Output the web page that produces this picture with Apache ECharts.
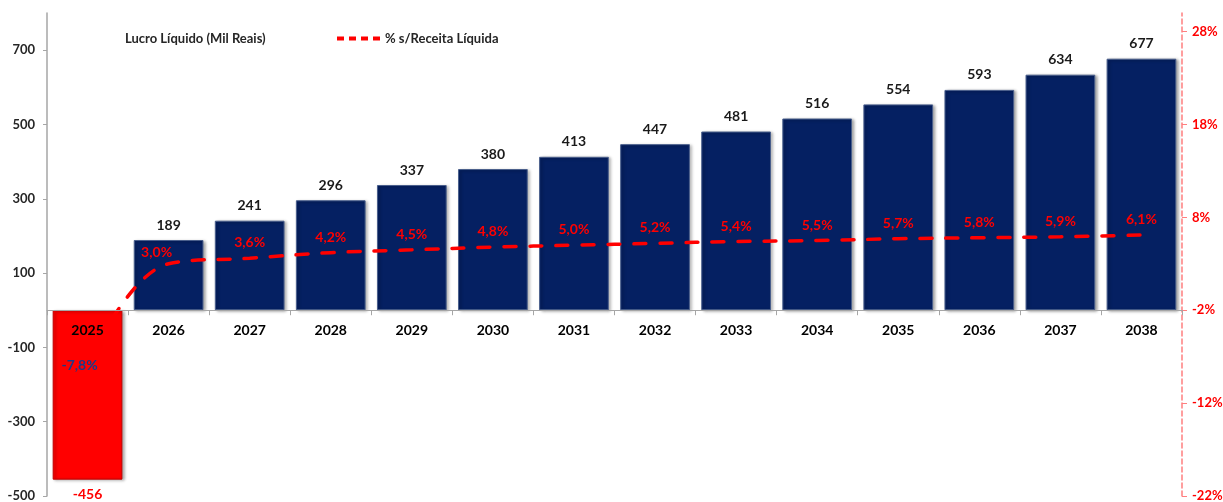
<!DOCTYPE html>
<html>
<head>
<meta charset="utf-8">
<script src="https://cdn.jsdelivr.net/npm/echarts@6/dist/echarts.min.js"></script>
<style>
  html, body { margin: 0; padding: 0; background: #fff; }
  #chart { width: 1223px; height: 502px; }
</style>
</head>
<body>
<div id="chart"></div>
<script>
// Lucro líquido anual (mil reais) e margem sobre a receita líquida
const anos = ['2025','2026','2027','2028','2029','2030','2031','2032','2033','2034','2035','2036','2037','2038'];
const lucroLiquido = [-456, 189, 241, 296, 337, 380, 413, 447, 481, 516, 554, 593, 634, 677];
const margemReceita = [-7.8, 3.0, 3.6, 4.2, 4.5, 4.8, 5.0, 5.2, 5.4, 5.5, 5.7, 5.8, 5.9, 6.1];
const ticksLucro = [-500, -300, -100, 100, 300, 500, 700];
const ticksMargem = [-22, -12, -2, 8, 18, 28];

const FONT = 'Lato, "Open Sans", sans-serif';
const NAVY = '#052062';
const RED = '#ff0000';

const fmtPct = v => v.toFixed(1).replace('.', ',') + '%';

const barData = lucroLiquido.map(v => {
  if (v < 0) {
    return {
      value: v,
      itemStyle: { color: RED, borderColor: '#c00000' },
      label: { position: 'bottom', color: RED, distance: 8 }
    };
  }
  return { value: v };
});

const lineData = margemReceita.map((v, i) => {
  if (v < 0) {
    return { value: v, label: { position: 'inside', offset: [-8, 1], color: '#1a3a8a' } };
  }
  if (i === 1) {
    return { value: v, label: { offset: [-12, 4] } };
  }
  return { value: v };
});

// year captions sit on the zero line, under each category
const rotulosAno = anos.map(a => [a, 0]);

// dashed legend marker: four short strokes
const dashIcon = 'path://M0,0h7v4h-7z M12,0h7v4h-7z M24,0h7v4h-7z M36,0h7v4h-7z';

const chart = echarts.init(document.getElementById('chart'), null, { renderer: 'canvas' });

chart.setOption({
  animation: false,
  backgroundColor: '#ffffff',
  textStyle: { fontFamily: FONT },
  grid: { left: 47, right: 41, top: 13, bottom: 6, containLabel: false, outerBoundsMode: 'none' },
  legend: [
    {
      left: 115, top: 27,
      itemWidth: 0, itemHeight: 12,
      data: [{ name: 'Lucro Líquido (Mil Reais)', icon: 'none' }],
      textStyle: { fontFamily: FONT, fontSize: 13, fontWeight: 'bold', color: '#262626' },
      selectedMode: false
    },
    {
      left: 332, top: 27,
      itemWidth: 43, itemHeight: 4, itemGap: 6,
      data: [{ name: '% s/Receita Líquida', icon: dashIcon, itemStyle: { color: RED } }],
      textStyle: { fontFamily: FONT, fontSize: 13, fontWeight: 'bold', color: '#262626' },
      selectedMode: false
    }
  ],
  xAxis: {
    type: 'category',
    data: anos,
    z: 10,
    axisLine: { onZero: true, lineStyle: { color: '#a6a6a6', width: 1 } },
    axisTick: { show: true, length: 5, lineStyle: { color: '#a6a6a6' } },
    axisLabel: { show: false },
    splitLine: { show: false }
  },
  yAxis: [
    {
      type: 'value',
      min: -500, max: 800, interval: 200,
      axisLine: { show: true, lineStyle: { color: '#a6a6a6', width: 1.5 } },
      axisTick: { show: true, length: 4, lineStyle: { color: '#a6a6a6' }, customValues: ticksLucro },
      axisLabel: { fontFamily: FONT, fontSize: 13, fontWeight: 'bold', color: '#262626', margin: 12, customValues: ticksLucro },
      splitLine: { show: false }
    },
    {
      type: 'value',
      position: 'right',
      min: -22, max: 30, interval: 10,
      axisLine: { show: true, lineStyle: { color: '#ff7f7f', width: 1.5, type: [5, 3] } },
      axisTick: { show: true, length: 5, inside: false, lineStyle: { color: '#ff7f7f' }, customValues: ticksMargem },
      axisLabel: {
        fontFamily: FONT, fontSize: 13, fontWeight: 'bold', color: RED, margin: 10,
        customValues: ticksMargem,
        formatter: v => v + '%'
      },
      splitLine: { show: false }
    }
  ],
  series: [
    {
      name: 'Lucro Líquido (Mil Reais)',
      type: 'bar',
      yAxisIndex: 0,
      data: barData,
      barCategoryGap: '14%',
      itemStyle: {
        color: NAVY,
        borderColor: '#4a5f8c',
        borderWidth: 1,
        shadowBlur: 3,
        shadowOffsetX: 2,
        shadowOffsetY: 1,
        shadowColor: 'rgba(0,0,0,0.35)'
      },
      label: {
        show: true,
        position: 'top',
        distance: 8,
        fontFamily: FONT,
        fontSize: 14,
        fontWeight: 'bold',
        color: '#1a1a1a'
      },
      z: 2
    },
    {
      name: '% s/Receita Líquida',
      type: 'line',
      yAxisIndex: 1,
      data: lineData,
      smooth: 0.4,
      symbol: 'circle',
      symbolSize: 1,
      showSymbol: true,
      lineStyle: { color: RED, width: 3.5, type: [12, 14], cap: 'round' },
      itemStyle: { color: 'rgba(255,0,0,0)' },
      label: {
        show: true,
        position: 'top',
        distance: 8,
        fontFamily: FONT,
        fontSize: 14,
        fontWeight: 'bold',
        color: RED,
        formatter: p => fmtPct(p.value)
      },
      z: 5
    },
    {
      name: 'ano',
      type: 'scatter',
      yAxisIndex: 0,
      data: rotulosAno,
      symbolSize: 1,
      itemStyle: { color: '#000000', opacity: 0 },
      silent: true,
      legendHoverLink: false,
      label: {
        show: true,
        position: 'bottom',
        distance: 13,
        fontFamily: FONT,
        fontSize: 14,
        fontWeight: 'bold',
        color: '#000000',
        opacity: 1,
        textBorderWidth: 0,
        formatter: p => p.value[0]
      },
      z: 6
    }
  ]
});
</script>
</body>
</html>
